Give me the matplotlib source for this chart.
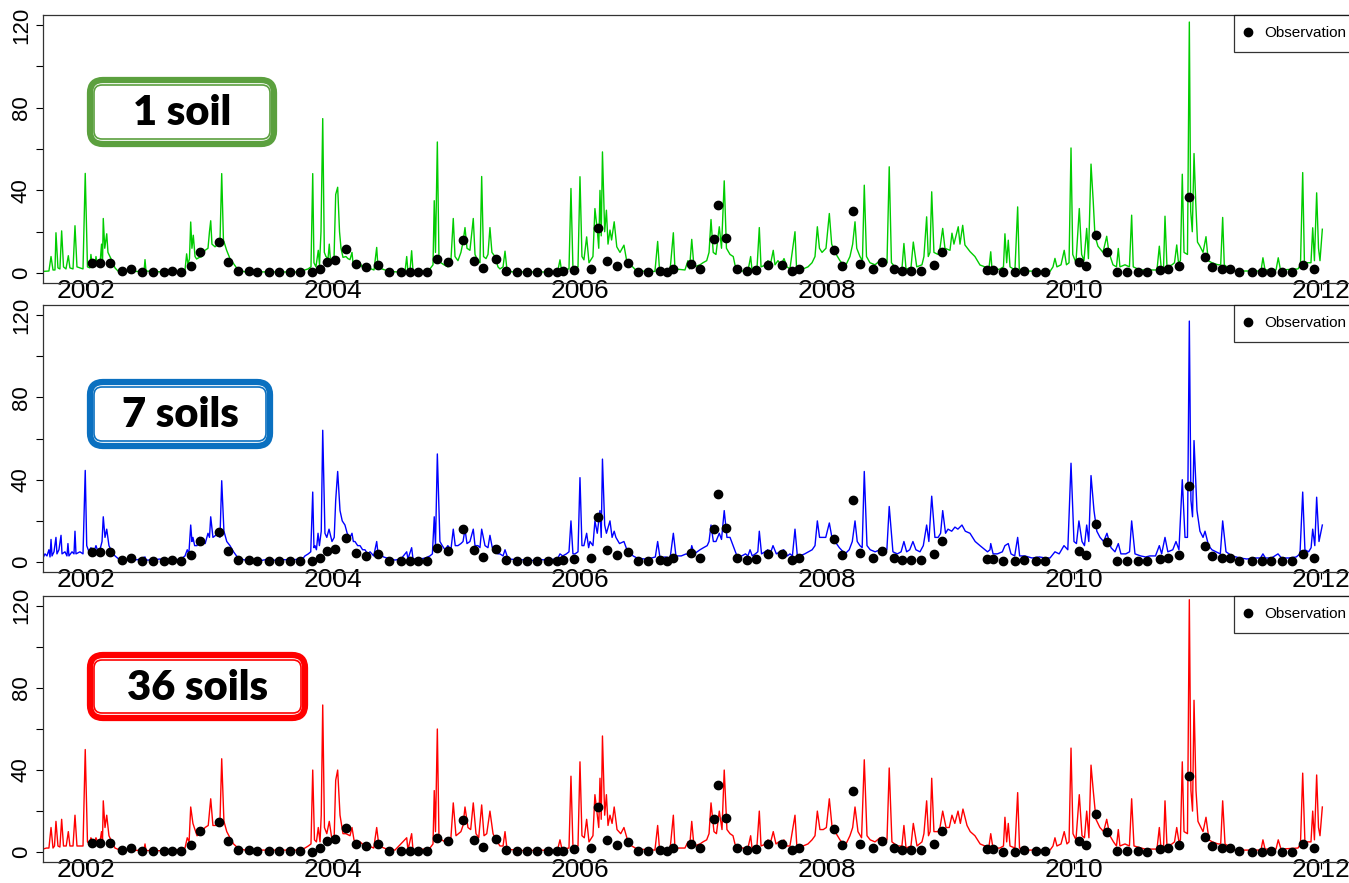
import matplotlib
matplotlib.use("Agg")
import matplotlib.pyplot as plt
from matplotlib.patches import FancyBboxPatch
from matplotlib.lines import Line2D

# observed values (same in every panel), decimal year -> value
obs = [(2002.046, 4.7), (2002.113, 4.7), (2002.194, 4.7), (2002.289, 1.1), (2002.362, 1.8),
       (2002.451, 0.6), (2002.540, 0.5), (2002.632, 0.5), (2002.699, 0.8), (2002.769, 0.5),
       (2002.850, 3.4), (2002.923, 10.1), (2003.077, 14.8), (2003.152, 5.5), (2003.233, 1.1),
       (2003.322, 1.1), (2003.385, 0.6), (2003.482, 0.5), (2003.560, 0.5), (2003.652, 0.5),
       (2003.733, 0.6), (2003.828, 0.3), (2003.897, 2.2), (2003.954, 5.5), (2004.016, 6.3),
       (2004.103, 11.6), (2004.186, 4.2), (2004.267, 3.0), (2004.362, 3.9), (2004.456, 0.5),
       (2004.551, 0.5), (2004.623, 0.5), (2004.686, 0.5), (2004.759, 0.5), (2004.840, 6.8),
       (2004.934, 5.2), (2005.055, 15.9), (2005.144, 5.9), (2005.217, 2.6), (2005.317, 6.6),
       (2005.401, 1.1), (2005.492, 0.5), (2005.573, 0.5), (2005.654, 0.5), (2005.738, 0.5),
       (2005.816, 0.5), (2005.865, 0.8), (2005.954, 1.4), (2006.087, 2.2), (2006.143, 21.9),
       (2006.221, 5.9), (2006.297, 3.5), (2006.391, 5.0), (2006.472, 0.5), (2006.548, 0.5),
       (2006.648, 1.1), (2006.702, 0.5), (2006.755, 1.8), (2006.899, 4.2), (2006.972, 2.2),
       (2007.087, 16.3), (2007.120, 32.9), (2007.182, 16.8), (2007.274, 2.0), (2007.350, 0.9),
       (2007.425, 1.4), (2007.520, 3.9), (2007.633, 3.8), (2007.714, 0.9), (2007.771, 1.8),
       (2008.059, 11.1), (2008.119, 3.4), (2008.213, 30.0), (2008.267, 4.2), (2008.370, 2.2),
       (2008.443, 5.5), (2008.545, 2.0), (2008.605, 1.1), (2008.678, 1.1), (2008.759, 1.1),
       (2008.869, 3.9), (2008.929, 10.1), (2009.293, 1.4), (2009.347, 1.4), (2009.423, 0.3),
       (2009.522, 0.3), (2009.595, 1.0), (2009.692, 0.6), (2009.767, 0.6), (2010.043, 5.2),
       (2010.097, 3.5), (2010.178, 18.4), (2010.270, 10.0), (2010.346, 0.6), (2010.427, 0.6),
       (2010.516, 0.6), (2010.594, 0.3), (2010.696, 1.4), (2010.764, 1.9), (2010.848, 3.5),
       (2010.934, 36.9), (2011.061, 7.6), (2011.120, 3.0), (2011.198, 2.2), (2011.263, 2.2),
       (2011.338, 0.6), (2011.439, 0.3), (2011.520, 0.3), (2011.595, 0.6), (2011.682, 0.3),
       (2011.768, 0.3), (2011.852, 3.9), (2011.943, 1.8)]

# simulated series, 1 soil
sim_1soil = [
    (2001.652, 0.8), (2001.700, 1.0), (2001.717, 8), (2001.733, 1.5), (2001.749, 1.5),
    (2001.757, 19.5), (2001.773, 2.5), (2001.789, 2), (2001.803, 20.4), (2001.818, 3),
    (2001.838, 2), (2001.857, 8.4), (2001.870, 2.5), (2001.895, 2), (2001.911, 22.9),
    (2001.927, 3), (2001.976, 2), (2001.994, 48.2), (2002.012, 3), (2002.032, 2.5),
    (2002.040, 9), (2002.053, 3), (2002.073, 4), (2002.081, 8), (2002.093, 3.5),
    (2002.113, 4), (2002.126, 14), (2002.134, 5), (2002.140, 26.4), (2002.152, 12),
    (2002.168, 19), (2002.178, 10), (2002.202, 7), (2002.235, 2.5), (2002.259, 1),
    (2002.291, 0.8), (2002.356, 0.8), (2002.362, 3), (2002.368, 0.8), (2002.470, 0.8),
    (2002.478, 6.5), (2002.486, 1), (2002.599, 0.6), (2002.761, 0.5), (2002.802, 1.5),
    (2002.815, 9.3), (2002.826, 4), (2002.838, 7), (2002.848, 24.7), (2002.858, 12),
    (2002.869, 18.3), (2002.883, 8), (2002.896, 6.8), (2002.915, 7.5), (2002.939, 8),
    (2002.964, 11), (2002.988, 12), (2003.000, 20), (2003.010, 25.3), (2003.020, 14),
    (2003.045, 12.7), (2003.069, 14), (2003.085, 15), (2003.099, 48.1), (2003.113, 16),
    (2003.139, 11), (2003.166, 7), (2003.190, 5), (2003.233, 1.4), (2003.287, 0.6),
    (2003.733, 0.5), (2003.773, 1.5), (2003.798, 2), (2003.822, 3), (2003.836, 48.1),
    (2003.846, 5), (2003.862, 3), (2003.881, 11), (2003.891, 4), (2003.903, 20),
    (2003.917, 74.7), (2003.930, 10), (2003.943, 8), (2003.960, 7), (2003.970, 14),
    (2003.980, 6), (2003.992, 5), (2004.008, 6), (2004.022, 38), (2004.038, 41.5),
    (2004.053, 20), (2004.065, 12), (2004.081, 7.6), (2004.105, 8), (2004.121, 7),
    (2004.138, 6.5), (2004.154, 10), (2004.162, 5), (2004.186, 4), (2004.219, 5),
    (2004.235, 3), (2004.259, 2), (2004.283, 4), (2004.308, 2), (2004.332, 1.5),
    (2004.354, 12.4), (2004.364, 3), (2004.397, 2), (2004.435, 1.2), (2004.502, 0.6),
    (2004.583, 0.5), (2004.597, 8), (2004.607, 0.8), (2004.623, 0.8), (2004.637, 10.8),
    (2004.648, 1), (2004.704, 0.8), (2004.745, 1), (2004.785, 2), (2004.810, 4),
    (2004.820, 35), (2004.830, 10), (2004.845, 63.4), (2004.858, 8), (2004.874, 5),
    (2004.899, 4), (2004.931, 3), (2004.955, 6), (2004.974, 26.4), (2004.988, 8),
    (2005.012, 6), (2005.036, 10), (2005.053, 15), (2005.069, 22), (2005.085, 12),
    (2005.109, 11), (2005.136, 26.4), (2005.150, 9), (2005.174, 6), (2005.190, 5),
    (2005.204, 46.7), (2005.219, 8), (2005.239, 7), (2005.255, 9), (2005.271, 22),
    (2005.287, 10), (2005.312, 8), (2005.336, 3), (2005.352, 2), (2005.377, 3),
    (2005.393, 10.6), (2005.409, 1.5), (2005.449, 0.6), (2005.798, 0.5), (2005.822, 1.5),
    (2005.838, 6.4), (2005.850, 1.5), (2005.911, 2), (2005.927, 40.9), (2005.943, 2.5),
    (2005.984, 3), (2006.000, 46.6), (2006.016, 8), (2006.032, 6.4), (2006.054, 17.5),
    (2006.073, 5), (2006.105, 8), (2006.121, 31.2), (2006.140, 20.8), (2006.152, 12),
    (2006.162, 40), (2006.172, 18), (2006.182, 58.6), (2006.200, 20), (2006.214, 30.4),
    (2006.227, 14), (2006.243, 20.8), (2006.256, 16), (2006.277, 24.8), (2006.298, 12.7),
    (2006.324, 10), (2006.356, 13.5), (2006.378, 6), (2006.419, 3.5), (2006.459, 1),
    (2006.607, 0.8), (2006.629, 15.3), (2006.644, 1.5), (2006.729, 1), (2006.756, 19.5),
    (2006.769, 2), (2006.850, 1.5), (2006.874, 6), (2006.887, 2), (2006.905, 16.3),
    (2006.923, 3), (2006.972, 4), (2006.996, 5), (2007.026, 6), (2007.045, 10),
    (2007.061, 25.9), (2007.079, 10), (2007.101, 9), (2007.128, 22.4), (2007.146, 12),
    (2007.168, 44.6), (2007.186, 12), (2007.215, 9), (2007.241, 8), (2007.255, 4),
    (2007.279, 1), (2007.360, 1), (2007.382, 8), (2007.393, 1.5), (2007.433, 2),
    (2007.452, 22), (2007.466, 3), (2007.506, 4), (2007.522, 6), (2007.538, 3),
    (2007.565, 11), (2007.579, 4), (2007.603, 6), (2007.628, 4), (2007.652, 7),
    (2007.676, 3), (2007.700, 2), (2007.741, 20), (2007.754, 2), (2007.806, 2),
    (2007.846, 3), (2007.879, 5), (2007.903, 8), (2007.922, 22.4), (2007.939, 12),
    (2007.960, 10), (2007.992, 12), (2008.019, 28.8), (2008.038, 14), (2008.065, 10),
    (2008.105, 6), (2008.146, 3), (2008.186, 8), (2008.208, 14), (2008.227, 24.8),
    (2008.241, 12), (2008.267, 8), (2008.287, 6), (2008.302, 42.5), (2008.320, 8),
    (2008.348, 5), (2008.389, 4), (2008.429, 6), (2008.453, 4), (2008.486, 5),
    (2008.504, 51.4), (2008.522, 5), (2008.564, 2), (2008.607, 2), (2008.623, 14.3),
    (2008.640, 2), (2008.680, 2.5), (2008.699, 15), (2008.727, 3), (2008.769, 4),
    (2008.785, 8), (2008.807, 27.2), (2008.820, 8), (2008.834, 10), (2008.848, 39.3),
    (2008.866, 10), (2008.899, 9), (2008.915, 12), (2008.937, 21.6), (2008.955, 12),
    (2008.996, 11), (2009.012, 19.3), (2009.028, 14), (2009.063, 22.4), (2009.077, 14),
    (2009.099, 23.1), (2009.117, 13.6), (2009.158, 10.4), (2009.198, 8), (2009.239, 3.9),
    (2009.279, 3), (2009.312, 2.5), (2009.326, 10.3), (2009.336, 2), (2009.368, 1.5),
    (2009.401, 2), (2009.429, 3), (2009.441, 19), (2009.455, 5), (2009.468, 15.9),
    (2009.482, 3), (2009.522, 1.5), (2009.544, 32), (2009.557, 2), (2009.603, 1),
    (2009.806, 0.8), (2009.830, 3), (2009.846, 7.1), (2009.862, 3), (2009.895, 4),
    (2009.921, 11), (2009.939, 4), (2009.960, 5), (2009.976, 60.5), (2009.990, 9),
    (2010.016, 5), (2010.043, 31.2), (2010.062, 9), (2010.081, 6), (2010.103, 21.6),
    (2010.117, 7), (2010.138, 52.7), (2010.156, 34.5), (2010.170, 18), (2010.194, 13),
    (2010.235, 10), (2010.265, 17.8), (2010.283, 10), (2010.316, 4), (2010.344, 3),
    (2010.359, 11.9), (2010.372, 3), (2010.413, 4), (2010.449, 3), (2010.467, 28),
    (2010.480, 3), (2010.534, 1.5), (2010.672, 1.5), (2010.691, 13), (2010.707, 2),
    (2010.725, 2), (2010.737, 27.5), (2010.753, 3), (2010.794, 4), (2010.814, 5),
    (2010.832, 13.6), (2010.846, 5), (2010.862, 6), (2010.877, 47.8), (2010.891, 10),
    (2010.919, 9), (2010.934, 121.4), (2010.945, 30), (2010.958, 20), (2010.972, 57.8),
    (2010.986, 34), (2011.000, 15), (2011.020, 13), (2011.045, 10), (2011.069, 17.6),
    (2011.087, 6), (2011.117, 5), (2011.166, 4), (2011.188, 4), (2011.204, 26.9),
    (2011.217, 4), (2011.250, 2.5), (2011.304, 1), (2011.514, 1), (2011.530, 7.4),
    (2011.547, 1.5), (2011.636, 1.5), (2011.654, 7.4), (2011.672, 1.5), (2011.814, 2),
    (2011.834, 4), (2011.852, 48.6), (2011.866, 5), (2011.895, 5), (2011.919, 5),
    (2011.933, 21.9), (2011.947, 6), (2011.965, 38.8), (2011.980, 12), (2011.992, 6),
    (2012.011, 21.2)]

# simulated series, 7 soils
sim_7soils = [
    (2001.652, 2), (2001.668, 4), (2001.684, 3), (2001.700, 6), (2001.709, 2.5),
    (2001.717, 11), (2001.725, 3), (2001.741, 5), (2001.757, 12), (2001.765, 4),
    (2001.781, 6), (2001.798, 13), (2001.806, 4), (2001.830, 5), (2001.846, 3),
    (2001.854, 9), (2001.862, 3), (2001.887, 5), (2001.903, 4), (2001.911, 15),
    (2001.919, 4), (2001.951, 5), (2001.976, 4), (2001.994, 44.5), (2002.006, 8),
    (2002.024, 5), (2002.040, 7), (2002.057, 4), (2002.081, 8), (2002.097, 5),
    (2002.113, 6), (2002.130, 10), (2002.140, 22), (2002.154, 12), (2002.168, 16),
    (2002.186, 8), (2002.210, 5), (2002.235, 3), (2002.255, 2), (2002.275, 1),
    (2002.320, 1.2), (2002.340, 0.8), (2002.356, 1.5), (2002.364, 3), (2002.372, 1),
    (2002.420, 1.2), (2002.478, 2.5), (2002.486, 1), (2002.540, 1), (2002.599, 1.5),
    (2002.640, 1), (2002.680, 0.8), (2002.740, 1.2), (2002.780, 2), (2002.802, 3),
    (2002.820, 6), (2002.833, 4), (2002.848, 18), (2002.858, 10), (2002.866, 12),
    (2002.880, 8), (2002.899, 8), (2002.920, 12), (2002.947, 10), (2002.965, 9),
    (2002.988, 14), (2003.000, 12), (2003.010, 22), (2003.028, 12), (2003.050, 13),
    (2003.069, 14), (2003.085, 12), (2003.099, 39.5), (2003.117, 15), (2003.140, 10),
    (2003.166, 8), (2003.195, 5), (2003.231, 2), (2003.287, 1), (2003.360, 1.2),
    (2003.420, 0.8), (2003.480, 1.5), (2003.540, 0.8), (2003.600, 1.2), (2003.660, 1),
    (2003.733, 1.5), (2003.760, 2), (2003.773, 3), (2003.800, 4), (2003.820, 5),
    (2003.836, 34), (2003.846, 7), (2003.854, 8), (2003.866, 6), (2003.879, 14),
    (2003.890, 8), (2003.905, 15), (2003.917, 64), (2003.935, 14), (2003.950, 12),
    (2003.968, 16), (2003.992, 10), (2004.010, 12), (2004.022, 30), (2004.038, 44),
    (2004.057, 25), (2004.075, 20), (2004.097, 18), (2004.115, 14), (2004.138, 12),
    (2004.154, 14), (2004.165, 10), (2004.178, 10), (2004.200, 8), (2004.219, 8),
    (2004.240, 6), (2004.259, 6), (2004.280, 4), (2004.300, 5), (2004.330, 3),
    (2004.354, 10), (2004.365, 4), (2004.381, 4), (2004.410, 2.5), (2004.435, 2),
    (2004.470, 1.5), (2004.502, 1), (2004.550, 1.5), (2004.597, 5), (2004.607, 1.5),
    (2004.637, 7), (2004.648, 1.5), (2004.704, 1.5), (2004.750, 2), (2004.785, 3),
    (2004.805, 4), (2004.820, 22), (2004.830, 8), (2004.845, 52.5), (2004.866, 10),
    (2004.885, 8), (2004.907, 6), (2004.930, 8), (2004.955, 6), (2004.974, 16),
    (2004.990, 8), (2005.012, 8), (2005.036, 9), (2005.053, 10), (2005.069, 16),
    (2005.085, 9), (2005.109, 10), (2005.136, 16), (2005.150, 8), (2005.174, 8),
    (2005.190, 7), (2005.204, 16), (2005.231, 8), (2005.255, 7), (2005.271, 13),
    (2005.290, 7), (2005.312, 8), (2005.336, 4), (2005.352, 4), (2005.377, 3),
    (2005.393, 6), (2005.415, 2), (2005.433, 1.5), (2005.500, 1), (2005.560, 1.2),
    (2005.620, 0.8), (2005.680, 1.2), (2005.740, 1), (2005.798, 1.5), (2005.822, 2),
    (2005.838, 4), (2005.860, 3), (2005.890, 4), (2005.911, 5), (2005.927, 20),
    (2005.943, 4), (2005.960, 4), (2005.984, 5), (2006.000, 41), (2006.016, 8),
    (2006.032, 8), (2006.054, 14), (2006.070, 7), (2006.081, 10), (2006.105, 8),
    (2006.121, 20), (2006.140, 14), (2006.162, 25), (2006.172, 12), (2006.182, 50),
    (2006.200, 18), (2006.214, 14), (2006.243, 20), (2006.260, 12), (2006.277, 15),
    (2006.291, 12), (2006.320, 9), (2006.356, 10), (2006.380, 6), (2006.405, 5),
    (2006.430, 3), (2006.462, 2), (2006.520, 1.5), (2006.580, 2), (2006.610, 2.5),
    (2006.629, 10), (2006.648, 2), (2006.690, 2.5), (2006.730, 2), (2006.756, 14),
    (2006.777, 3), (2006.820, 3), (2006.860, 4), (2006.890, 3), (2006.905, 8),
    (2006.925, 4), (2006.972, 6), (2007.000, 7), (2007.030, 8), (2007.045, 10),
    (2007.061, 18), (2007.080, 10), (2007.101, 10), (2007.128, 14), (2007.146, 11),
    (2007.168, 25), (2007.190, 12), (2007.215, 12), (2007.240, 8), (2007.271, 3),
    (2007.310, 3), (2007.340, 4), (2007.360, 3), (2007.377, 6), (2007.395, 3),
    (2007.420, 4), (2007.440, 5), (2007.452, 15), (2007.470, 4), (2007.498, 5),
    (2007.520, 6), (2007.540, 4), (2007.563, 8), (2007.590, 4), (2007.619, 5),
    (2007.650, 6), (2007.680, 3), (2007.700, 4), (2007.720, 3), (2007.741, 16),
    (2007.760, 3), (2007.781, 3), (2007.820, 4), (2007.850, 5), (2007.880, 6),
    (2007.903, 8), (2007.922, 20), (2007.940, 12), (2007.960, 12), (2007.990, 12),
    (2008.019, 19), (2008.040, 12), (2008.065, 10), (2008.100, 7), (2008.146, 4),
    (2008.180, 6), (2008.205, 10), (2008.227, 20), (2008.245, 10), (2008.267, 8),
    (2008.285, 7), (2008.302, 44), (2008.324, 8), (2008.350, 6), (2008.390, 5),
    (2008.429, 6), (2008.460, 5), (2008.485, 6), (2008.504, 27), (2008.534, 5),
    (2008.570, 4), (2008.600, 5), (2008.623, 10), (2008.645, 5), (2008.670, 6),
    (2008.696, 10), (2008.720, 6), (2008.753, 5), (2008.780, 8), (2008.807, 18),
    (2008.825, 10), (2008.848, 32), (2008.874, 12), (2008.900, 12), (2008.920, 14),
    (2008.937, 25), (2008.960, 14), (2008.980, 16), (2009.010, 15), (2009.036, 17),
    (2009.060, 16), (2009.093, 18), (2009.120, 15), (2009.158, 14), (2009.200, 10),
    (2009.239, 8), (2009.280, 6), (2009.300, 5), (2009.320, 6), (2009.326, 9),
    (2009.345, 4), (2009.380, 4), (2009.420, 5), (2009.441, 8), (2009.468, 9),
    (2009.490, 4), (2009.520, 3), (2009.544, 12), (2009.560, 3), (2009.603, 3),
    (2009.660, 2), (2009.720, 2.5), (2009.770, 2), (2009.806, 2), (2009.846, 5),
    (2009.880, 4), (2009.919, 8), (2009.950, 6), (2009.976, 48), (2010.000, 10),
    (2010.020, 9), (2010.040, 20), (2010.065, 10), (2010.085, 8), (2010.103, 18),
    (2010.120, 10), (2010.138, 42), (2010.162, 25), (2010.185, 15), (2010.211, 12),
    (2010.240, 10), (2010.267, 14), (2010.300, 7), (2010.332, 5), (2010.359, 9),
    (2010.380, 4), (2010.420, 4), (2010.450, 5), (2010.467, 20), (2010.494, 4),
    (2010.540, 3), (2010.580, 2.5), (2010.615, 3), (2010.660, 3), (2010.691, 8),
    (2010.710, 4), (2010.737, 12), (2010.760, 5), (2010.800, 6), (2010.826, 10),
    (2010.850, 6), (2010.877, 40), (2010.899, 12), (2010.919, 12), (2010.934, 117),
    (2010.947, 30), (2010.960, 22), (2010.972, 59), (2010.996, 25), (2011.020, 15),
    (2011.045, 12), (2011.061, 15), (2011.090, 8), (2011.117, 6), (2011.150, 5),
    (2011.185, 4), (2011.204, 20), (2011.231, 5), (2011.280, 3), (2011.344, 2),
    (2011.400, 1.5), (2011.460, 2), (2011.510, 2), (2011.530, 4), (2011.550, 2),
    (2011.600, 2), (2011.652, 4), (2011.680, 2), (2011.740, 2), (2011.800, 2.5),
    (2011.830, 4), (2011.852, 34), (2011.870, 6), (2011.900, 5), (2011.920, 7),
    (2011.933, 16), (2011.950, 8), (2011.965, 31.5), (2011.984, 10), (2012.011, 18)]

# simulated series, 36 soils
sim_36soils = [
    (2001.652, 1.5), (2001.680, 2), (2001.700, 2), (2001.717, 12), (2001.733, 2),
    (2001.745, 3), (2001.757, 15), (2001.773, 3), (2001.789, 2.5), (2001.803, 16),
    (2001.818, 3), (2001.840, 3), (2001.857, 10), (2001.870, 3), (2001.895, 3),
    (2001.911, 18), (2001.927, 3), (2001.976, 3), (2001.994, 50), (2002.012, 5),
    (2002.030, 4), (2002.040, 7), (2002.060, 4), (2002.081, 7), (2002.100, 4),
    (2002.113, 5), (2002.126, 10), (2002.134, 6), (2002.140, 25), (2002.154, 12),
    (2002.168, 18), (2002.186, 8), (2002.210, 5), (2002.235, 2), (2002.275, 1),
    (2002.356, 1), (2002.362, 2.5), (2002.372, 0.8), (2002.470, 1), (2002.478, 4),
    (2002.486, 0.8), (2002.600, 0.7), (2002.700, 0.8), (2002.780, 1.5), (2002.802, 2),
    (2002.820, 7), (2002.835, 5), (2002.848, 22), (2002.866, 14), (2002.899, 8),
    (2002.930, 9), (2002.964, 12), (2002.990, 13), (2003.010, 26), (2003.028, 13),
    (2003.050, 13), (2003.069, 15), (2003.085, 15), (2003.099, 45.5), (2003.117, 15),
    (2003.140, 10), (2003.166, 7), (2003.195, 4), (2003.231, 2), (2003.287, 1),
    (2003.733, 1), (2003.773, 2), (2003.800, 3), (2003.822, 4), (2003.836, 40),
    (2003.850, 6), (2003.866, 5), (2003.881, 12), (2003.895, 5), (2003.905, 18),
    (2003.917, 71.7), (2003.931, 12), (2003.950, 9), (2003.970, 15), (2003.992, 6),
    (2004.010, 8), (2004.022, 35), (2004.038, 40), (2004.057, 18), (2004.081, 9),
    (2004.105, 9), (2004.138, 8), (2004.154, 12), (2004.170, 6), (2004.186, 5),
    (2004.219, 5), (2004.259, 3), (2004.290, 3), (2004.330, 2), (2004.354, 12),
    (2004.372, 3), (2004.435, 1.5), (2004.502, 1), (2004.597, 7), (2004.607, 1),
    (2004.637, 9), (2004.648, 1), (2004.745, 1.5), (2004.785, 2), (2004.810, 4),
    (2004.820, 30), (2004.830, 10), (2004.845, 60), (2004.858, 8), (2004.880, 6),
    (2004.907, 5), (2004.940, 6), (2004.955, 7), (2004.974, 24), (2004.996, 8),
    (2005.036, 10), (2005.053, 13), (2005.069, 22), (2005.093, 12), (2005.115, 11),
    (2005.136, 24), (2005.158, 9), (2005.180, 7), (2005.204, 23), (2005.223, 8),
    (2005.245, 9), (2005.271, 20), (2005.296, 9), (2005.320, 6), (2005.352, 3),
    (2005.377, 3), (2005.393, 10), (2005.409, 1.5), (2005.500, 0.8), (2005.798, 1),
    (2005.822, 2), (2005.838, 6), (2005.854, 1.5), (2005.911, 2), (2005.927, 37),
    (2005.943, 3), (2005.984, 3), (2006.000, 44), (2006.016, 8), (2006.035, 7),
    (2006.054, 16), (2006.073, 5), (2006.105, 8), (2006.121, 28), (2006.140, 18),
    (2006.152, 12), (2006.162, 36), (2006.172, 16), (2006.182, 56.6), (2006.200, 18),
    (2006.214, 28), (2006.227, 13), (2006.243, 18), (2006.260, 14), (2006.277, 22),
    (2006.300, 11), (2006.330, 9), (2006.356, 12), (2006.389, 5), (2006.420, 3),
    (2006.462, 1.5), (2006.607, 1), (2006.629, 13), (2006.644, 1.5), (2006.729, 1),
    (2006.756, 18), (2006.769, 2), (2006.850, 2), (2006.874, 5), (2006.887, 2),
    (2006.905, 15), (2006.923, 3), (2006.972, 4), (2006.996, 5), (2007.026, 6),
    (2007.045, 9), (2007.061, 24), (2007.085, 10), (2007.105, 9), (2007.128, 20),
    (2007.150, 11), (2007.168, 40), (2007.190, 11), (2007.215, 9), (2007.239, 8),
    (2007.255, 4), (2007.279, 2), (2007.360, 2), (2007.382, 8), (2007.393, 2),
    (2007.433, 3), (2007.452, 20), (2007.466, 3), (2007.506, 4), (2007.522, 6),
    (2007.540, 4), (2007.565, 10), (2007.587, 4), (2007.610, 5), (2007.630, 4),
    (2007.652, 6), (2007.676, 3), (2007.700, 3), (2007.741, 18), (2007.757, 2),
    (2007.806, 3), (2007.846, 4), (2007.879, 6), (2007.903, 8), (2007.922, 20),
    (2007.943, 11), (2007.970, 11), (2007.995, 12), (2008.019, 26), (2008.040, 13),
    (2008.065, 10), (2008.105, 6), (2008.146, 3), (2008.186, 8), (2008.208, 12),
    (2008.227, 22), (2008.251, 10), (2008.280, 7), (2008.302, 45), (2008.324, 8),
    (2008.350, 6), (2008.389, 5), (2008.429, 7), (2008.460, 5), (2008.486, 6),
    (2008.504, 41), (2008.526, 5), (2008.570, 3), (2008.607, 3), (2008.623, 13),
    (2008.640, 2), (2008.680, 3), (2008.699, 14), (2008.729, 3), (2008.769, 5),
    (2008.785, 9), (2008.807, 25), (2008.822, 8), (2008.835, 10), (2008.848, 36),
    (2008.866, 10), (2008.899, 10), (2008.915, 12), (2008.937, 20), (2008.964, 12),
    (2008.990, 12), (2009.012, 18), (2009.035, 14), (2009.061, 20), (2009.080, 14),
    (2009.101, 21), (2009.134, 13), (2009.160, 10), (2009.198, 8), (2009.240, 4),
    (2009.279, 3), (2009.312, 3), (2009.326, 9), (2009.344, 2), (2009.400, 2),
    (2009.429, 3), (2009.441, 17), (2009.455, 5), (2009.468, 14), (2009.482, 3),
    (2009.522, 2), (2009.544, 29), (2009.559, 2), (2009.603, 1), (2009.806, 1),
    (2009.830, 3), (2009.846, 7), (2009.862, 3), (2009.895, 4), (2009.921, 10),
    (2009.943, 4), (2009.960, 5), (2009.976, 50.7), (2009.992, 9), (2010.016, 6),
    (2010.043, 28), (2010.065, 8), (2010.085, 7), (2010.103, 20), (2010.121, 7),
    (2010.138, 42.4), (2010.156, 30), (2010.178, 16), (2010.210, 12), (2010.240, 10),
    (2010.265, 16), (2010.291, 8), (2010.320, 5), (2010.344, 3), (2010.359, 11),
    (2010.372, 3), (2010.413, 4), (2010.449, 3), (2010.467, 26), (2010.486, 3),
    (2010.575, 1.5), (2010.672, 1.5), (2010.691, 12), (2010.704, 2), (2010.725, 2),
    (2010.737, 25), (2010.753, 3), (2010.794, 4), (2010.814, 5), (2010.832, 12),
    (2010.850, 5), (2010.862, 6), (2010.877, 44), (2010.891, 10), (2010.919, 9),
    (2010.934, 123), (2010.947, 30), (2010.960, 20), (2010.972, 74), (2010.988, 30),
    (2011.004, 15), (2011.020, 13), (2011.045, 10), (2011.069, 17), (2011.093, 6),
    (2011.120, 5), (2011.166, 4), (2011.188, 4), (2011.204, 25), (2011.223, 4),
    (2011.260, 2.5), (2011.304, 1), (2011.514, 1), (2011.530, 6), (2011.547, 1.5),
    (2011.636, 1.5), (2011.654, 6), (2011.676, 1.5), (2011.814, 2), (2011.834, 4),
    (2011.852, 38.5), (2011.870, 5), (2011.895, 5), (2011.919, 5), (2011.933, 20),
    (2011.947, 6), (2011.965, 37.6), (2011.980, 12), (2011.992, 8), (2012.011, 22)]

panel_labels = ["1 soil", "7 soils", "36 soils"]
line_colors = ["#00cc00", "#0000ff", "#ff0000"]
box_colors = ["#5ba03e", "#0a70c0", "#ff0000"]
year_ticks = [2002, 2004, 2006, 2008, 2010, 2012]

W, H = 1349, 883
fig = plt.figure(figsize=(W / 100, H / 100), dpi=100)
plt.rcParams['font.family'] = ['Liberation Sans', 'DejaVu Sans']

# axes placement in pixels (top, bottom); right edge runs past the figure
rows = [(15, 283), (305, 572), (596, 862)]
left_px, right_px = 43, 1358
x_left = 2001.652
x_right = x_left + (right_px - left_px) / 123.5

series = [sim_1soil, sim_7soils, sim_36soils]
obs_t, obs_v = zip(*obs)

for i, (top, bot) in enumerate(rows):
    ax = fig.add_axes([left_px / W, 1 - bot / H, (right_px - left_px) / W, (bot - top) / H])
    t, v = zip(*series[i])
    ax.plot(t, v, color=line_colors[i], lw=1.0, zorder=2)
    ax.plot(obs_t, obs_v, 'o', color='black', ms=6, zorder=3)
    ax.set_xlim(x_left, x_right)
    ax.set_ylim(-4.8, 124.8)

    ax.set_yticks([0, 20, 40, 60, 80, 100, 120])
    ax.set_yticklabels(["0", "", "40", "", "80", "", "120"], rotation=90, va='center')
    ax.set_xticks(year_ticks)
    ax.set_xticklabels([str(y) for y in year_ticks])
    ax.tick_params(axis='y', direction='out', length=5, width=0.8, pad=3, labelsize=16)
    ax.tick_params(axis='x', direction='out', length=5, width=0.8, pad=-8, labelsize=19)
    for s in ax.spines.values():
        s.set_linewidth(0.9)
        s.set_color('#333333')

    handle = Line2D([], [], ls='none', marker='o', color='black', ms=6)
    leg = ax.legend([handle], ["Observation"], loc='upper right', borderaxespad=0,
                    fontsize=11, frameon=True, fancybox=False, borderpad=0.75,
                    handlelength=0.35, handletextpad=0.9)
    leg.get_frame().set_edgecolor('black')
    leg.get_frame().set_linewidth(0.9)

# labelled boxes, pixel coords (x0, y0, x1, y1) of outer edge
boxes = [(87, 77, 277, 147), (87, 379, 273, 449), (87, 652, 308, 721)]
for (x0, y0, x1, y1), col, lab in zip(boxes, box_colors, panel_labels):
    outer = FancyBboxPatch(((x0 + 3) / 100, (H - y1 + 3) / 100), (x1 - x0 - 6) / 100,
                           (y1 - y0 - 6) / 100, boxstyle="round,pad=0,rounding_size=0.13",
                           transform=fig.dpi_scale_trans, facecolor='white',
                           edgecolor=col, lw=4.5, zorder=5)
    inner = FancyBboxPatch(((x0 + 7) / 100, (H - y1 + 8) / 100), (x1 - x0 - 14) / 100,
                           (y1 - y0 - 16) / 100, boxstyle="round,pad=0,rounding_size=0.08",
                           transform=fig.dpi_scale_trans, facecolor='none',
                           edgecolor=col, lw=1.2, zorder=6)
    fig.add_artist(outer)
    fig.add_artist(inner)
    fig.text((x0 + x1) / 2 / W, 1 - ((y0 + y1) / 2 + 1) / H, lab, ha='center', va='center',
             fontsize=30, fontweight='heavy', family=['Lato', 'DejaVu Sans'], zorder=7)

fig.savefig("out.png", dpi=100)
